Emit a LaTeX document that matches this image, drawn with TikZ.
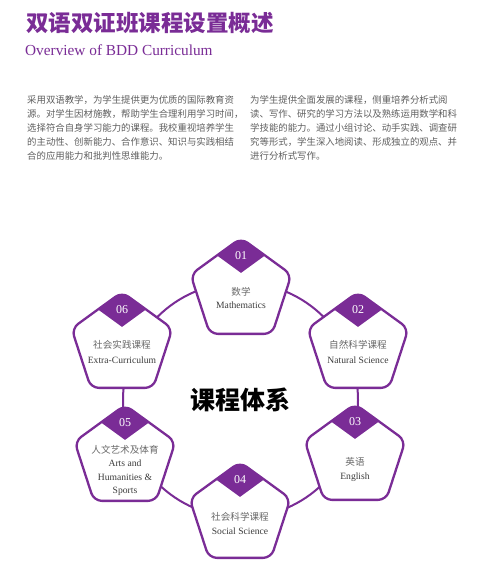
\documentclass[tikz,border=0pt]{standalone}
\usepackage{fontspec}
\setmainfont{Liberation Serif}
\newfontfamily\cjk{Noto Sans CJK SC}
\definecolor{bddpurple}{RGB}{122,44,150}
\definecolor{paragray}{RGB}{95,95,95}
\definecolor{zhgray}{RGB}{105,105,105}
\definecolor{engray}{RGB}{60,60,60}
\begin{document}
\begin{tikzpicture}[x=1pt,y=-1pt,
  ring/.style={draw=bddpurple, line width=2pt},
  pentline/.style={draw=bddpurple, line width=2.3pt, rounded corners=8pt},
  numtxt/.style={text=white, font=\fontsize{12}{12}\selectfont, inner sep=0pt},
  zh/.style={text=zhgray, font=\cjk\fontsize{9.6}{10}\selectfont, inner sep=0pt, text height=7.7pt, text depth=0.5pt},
  en/.style={text=engray, font=\fontsize{9.6}{10}\selectfont, inner sep=0pt, text height=6.3pt, text depth=0pt},
  para/.style={text=paragray, font=\cjk\fontsize{9.4}{14}\selectfont, inner sep=0pt, anchor=base west},
  title/.style={text=bddpurple, font=\cjk\bfseries\fontsize{22.5}{24}\selectfont, inner sep=0pt, anchor=base west},
  subtitle/.style={text=bddpurple, font=\fontsize{15.3}{16}\selectfont, inner sep=0pt, anchor=base west},
  center/.style={text=black, font=\cjk\bfseries\fontsize{25}{26}\selectfont, inner sep=0pt, text height=20pt, text depth=1.2pt}
]
\useasboundingbox (0,0) rectangle (500,565);
\fill[white] (0,0) rectangle (500,565);

% header
\node[title] (title) at (26,31.5) {双语双证班课程设置概述};
\node[subtitle] (subtitle) at (25,55) {Overview of BDD Curriculum};

% paragraphs
\foreach \t [count=\i] in {采用双语教学，为学生提供更为优质的国际教育资,
  源。对学生因材施教，帮助学生合理利用学习时间，,
  选择符合自身学习能力的课程。我校重视培养学生,
  的主动性、创新能力、合作意识、知识与实践相结,
  合的应用能力和批判性思维能力。}
  {\node[para] (la\i) at (27,{103.6+14*(\i-1)}) {\t};}
\foreach \t [count=\i] in {为学生提供全面发展的课程，侧重培养分析式阅,
  读、写作、研究的学习方法以及熟练运用数学和科,
  学技能的能力。通过小组讨论、动手实践、调查研,
  究等形式，学生深入地阅读、形成独立的观点、并,
  进行分析式写作。}
  {\node[para] (lb\i) at (250,{103.6+14*(\i-1)}) {\t};}

% ring
\draw[ring] (240.5,400) circle[radius=117.5pt];

% pentagons
\foreach \cx/\cy/\num [count=\k] in {241/291/01, 358/345/02, 355/457/03, 240/515/04, 125/458/05, 122/345/06}
{
  \begin{scope}[shift={(\cx,\cy)}]
    \begin{scope}
      \clip[rounded corners=8pt] (0,-53) -- (50.41,-16.38) -- (31.15,42.88) -- (-31.15,42.88) -- (-50.41,-16.38) -- cycle;
      \fill[white] (-60,-60) rectangle (60,60);
      \fill[bddpurple] (0,-75) -- (40,-47.2) -- (0,-18.1) -- (-40,-47.2) -- cycle;
    \end{scope}
    \draw[pentline] (0,-53) -- (50.41,-16.38) -- (31.15,42.88) -- (-31.15,42.88) -- (-50.41,-16.38) -- cycle;
    \node[numtxt] (n\k) at (0,-35.5) {\num};
  \end{scope}
}

% labels
\node[zh] (z1) at (241,292) {数学};
\node[en] (e1) at (241,305.5) {Mathematics};
\node[zh] (z2) at (358,345) {自然科学课程};
\node[en] (e2) at (358,360) {Natural Science};
\node[zh] (z3) at (355,462) {英语};
\node[en] (e3) at (355,476.5) {English};
\node[zh] (z4) at (240,517) {社会科学课程};
\node[en] (e4) at (240,531) {Social Science};
\node[zh] (z5) at (125,450) {人文艺术及体育};
\node[en] (e5a) at (125,463.5) {Arts and};
\node[en] (e5b) at (125,477) {Humanities \&};
\node[en] (e5c) at (125,490) {Sports};
\node[zh] (z6) at (122,345) {社会实践课程};
\node[en] (e6) at (122,360) {Extra-Curriculum};

% centre
\node[center] (core) at (240,400) {课程体系};
\end{tikzpicture}
\end{document}
